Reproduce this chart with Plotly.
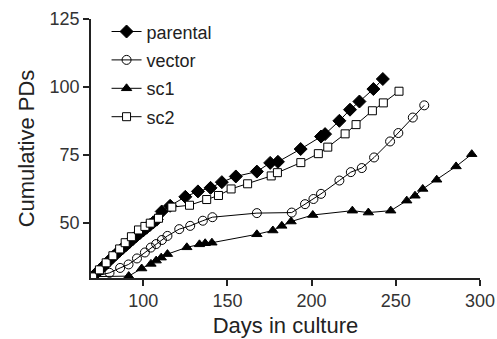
import plotly.graph_objects as go

# Data
parental_x = [70, 72, 74, 76, 78, 80, 82, 84, 86, 88, 90, 92, 94, 96, 98, 100, 102, 104, 106, 108,
              111, 116, 125, 132.5, 140, 146.7, 155, 167.5, 175.4, 180, 193.5, 205.6, 208, 216.5,
              222.8, 228.4, 236.7, 242.3]
parental_y = [30, 31.3, 32.5, 33.7, 34.9, 36.1, 37.3, 38.5, 39.6, 40.7, 41.8, 42.9, 44, 45.1, 46.1,
              47.1, 48.1, 49.1, 50.1, 51.1, 54.1, 56.2, 59.5, 61.5, 62.8, 64.9, 67, 68.8, 72, 72.4,
              77.1, 81.7, 82.6, 87.5, 91.6, 94.6, 99.2, 102.9]

vector_x = [70, 80, 86.3, 91.3, 96.3, 101, 104.5, 107.7, 111.1, 114.4, 121.4, 127.9, 135.4, 141.1,
            167.5, 188.2, 196.1, 201.1, 205.6, 216.5, 223.3, 229.8, 237.1, 246.6, 251.5, 260.1,
            266.9]
vector_y = [30, 31.5, 33.3, 34.6, 36.8, 39, 40.8, 42.1, 43.6, 45.1, 47.6, 48.8, 50.7, 52, 53.5,
            53.7, 56.8, 58.7, 60.6, 65.5, 68.6, 70.1, 74, 79.9, 83, 88.7, 93.2]

sc1_x = [70.5, 91.4, 99.1, 104.6, 107.7, 110.7, 114.4, 125.9, 133.4, 136.8, 140.8, 167.5, 177,
         182.3, 187.8, 200.7, 224.2, 233.7, 247, 256.5, 261.4, 266, 274.3, 285.8, 295.1]
sc1_y = [30.1, 30.3, 33.1, 34.8, 36, 37.1, 38.4, 40.9, 42, 42.4, 42.6, 45.7, 47.1, 48.8, 50.4,
         52.8, 54.4, 53.7, 54.4, 58.1, 59.9, 62.4, 65.8, 70.7, 75.2]

sc2_x = [70, 74, 78, 82, 86, 89.3, 93, 97.2, 101, 104.2, 109.1, 117, 127.5, 137.7, 144.7, 152.2,
         162, 176, 179.7, 193.6, 204, 209.6, 219.9, 226.4, 236.1, 242.6, 251.9]
sc2_y = [30, 32.6, 35.2, 37.8, 40.3, 42.6, 44.8, 47.3, 48.6, 49.8, 51.6, 55.7, 56.4, 58.5, 60,
         62.4, 64.3, 67.2, 68.4, 72.1, 75.4, 77.8, 82.7, 86.1, 91.2, 94.1, 98.4]

x_ticks = [100, 150, 200, 250, 300]
y_ticks = [50, 75, 100, 125]

FONT = "Liberation Sans, Arial, sans-serif"
LINE = dict(color="black", width=1)

fig = go.Figure()
fig.add_trace(go.Scatter(x=parental_x, y=parental_y, name="parental", mode="lines+markers",
                         line=LINE, legendgroup="a",
                         marker=dict(symbol="diamond", size=10, color="black",
                                     line=dict(color="black", width=1))))
fig.add_trace(go.Scatter(x=vector_x, y=vector_y, name="vector", mode="lines+markers",
                         line=LINE, legendgroup="b",
                         marker=dict(symbol="circle-open", size=9, color="black",
                                     line=dict(color="black", width=1))))
fig.add_trace(go.Scatter(x=sc1_x, y=sc1_y, name="sc1", mode="lines+markers",
                         line=LINE, legendgroup="c",
                         marker=dict(symbol="triangle-up", size=9, color="black",
                                     line=dict(color="black", width=1))))
fig.add_trace(go.Scatter(x=sc2_x, y=sc2_y, name="sc2", mode="lines+markers",
                         line=LINE, legendgroup="d",
                         marker=dict(symbol="square", size=8, color="white",
                                     line=dict(color="black", width=1))))

fig.update_layout(
    width=497, height=339,
    margin=dict(l=91, r=17, t=19, b=61),
    paper_bgcolor="white", plot_bgcolor="white",
    font=dict(family=FONT, color="#333333"),
    legend=dict(x=0.04, y=1.022, xanchor="left", yanchor="top",
                font=dict(size=18, color="#222222"),
                bgcolor="rgba(0,0,0,0)", tracegroupgap=2, itemwidth=30),
    xaxis=dict(range=[69, 300], tickvals=x_ticks, ticks="outside", ticklen=6,
               tickwidth=1.5, tickcolor="#222222", automargin=False,
               showline=True, linecolor="#222222", linewidth=1.5, showgrid=False,
               zeroline=False, tickfont=dict(size=18, color="#333333"),
               title=dict(text="Days in culture", font=dict(size=22, color="#222222"),
                          standoff=7)),
    yaxis=dict(range=[29.6, 125], tickvals=y_ticks, ticks="outside", ticklen=6,
               tickwidth=1.5, tickcolor="#222222", automargin=False,
               showline=True, linecolor="#222222", linewidth=1.5, showgrid=False,
               zeroline=False, tickfont=dict(size=18, color="#333333"),
               title=dict(text="Cumulative PDs", font=dict(size=22, color="#222222"),
                          standoff=9)),
)

fig.write_html("out.html")
